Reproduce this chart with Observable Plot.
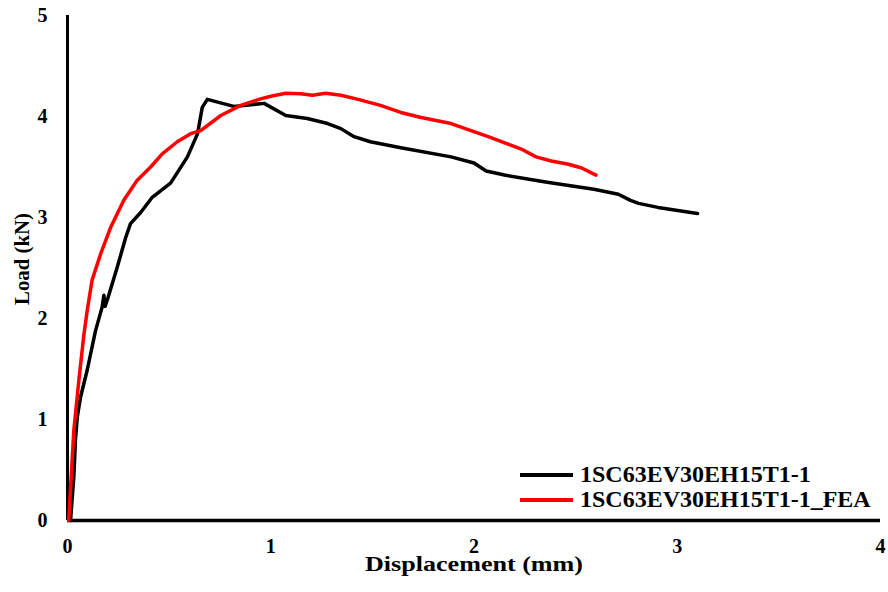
<!DOCTYPE html>
<html>
<head>
<meta charset="utf-8">
<script src="https://cdn.jsdelivr.net/npm/d3@7"></script>
<script src="https://cdn.jsdelivr.net/npm/@observablehq/plot@0.6"></script>
<style>
  html, body { margin: 0; padding: 0; background: #fff; }
  #chart { position: relative; width: 888px; height: 592px; }
  #legend {
    position: absolute; left: 520px; top: 462px;
    font: bold 24px "Liberation Serif", "Times New Roman", serif; color: #000;
  }
  #legend .row { display: flex; align-items: center; height: 25px; white-space: nowrap; }
  #legend .sw { width: 53px; height: 4px; margin-right: 7px; }
</style>
</head>
<body>
<div id="chart"></div>
<script>
// Load–displacement curve, experiment
const testDisp = [0.015, 0.031, 0.039, 0.048, 0.064, 0.097, 0.138, 0.17, 0.179, 0.185, 0.2, 0.245, 0.286, 0.31, 0.36, 0.417, 0.507, 0.59, 0.64, 0.663, 0.688, 0.818, 0.967, 1.074, 1.18, 1.28, 1.345, 1.41, 1.49, 1.64, 1.887, 2.0, 2.03, 2.06, 2.15, 2.36, 2.59, 2.71, 2.77, 2.81, 2.905, 3.10];
const testLoad = [0.0, 0.43, 0.79, 1.02, 1.22, 1.49, 1.88, 2.11, 2.23, 2.12, 2.21, 2.51, 2.80, 2.94, 3.05, 3.20, 3.34, 3.60, 3.83, 4.09, 4.17, 4.10, 4.13, 4.01, 3.98, 3.93, 3.88, 3.80, 3.75, 3.69, 3.60, 3.54, 3.50, 3.46, 3.42, 3.35, 3.28, 3.23, 3.17, 3.14, 3.10, 3.04];

// Load–displacement curve, finite element model
const feaDisp = [0.006, 0.031, 0.056, 0.08, 0.097, 0.121, 0.163, 0.212, 0.277, 0.343, 0.409, 0.466, 0.54, 0.606, 0.655, 0.754, 0.852, 0.95, 1.0, 1.074, 1.148, 1.205, 1.27, 1.345, 1.43, 1.54, 1.64, 1.74, 1.887, 2.07, 2.23, 2.305, 2.38, 2.46, 2.53, 2.60];
const feaLoad = [0.0, 0.89, 1.39, 1.83, 2.08, 2.38, 2.64, 2.90, 3.17, 3.37, 3.50, 3.63, 3.75, 3.83, 3.86, 4.01, 4.11, 4.175, 4.20, 4.23, 4.225, 4.21, 4.23, 4.21, 4.17, 4.11, 4.04, 3.99, 3.93, 3.80, 3.68, 3.60, 3.56, 3.53, 3.49, 3.42];

const seriesNames = ["1SC63EV30EH15T1-1", "1SC63EV30EH15T1-1_FEA"];
const seriesColors = ["#000000", "#ff0000"];
const xTicks = [0, 1, 2, 3, 4];
const yTicks = [0, 1, 2, 3, 4, 5];
const xTitle = "Displacement (mm)";
const yTitle = "Load (kN)";

const rows = [
  ...testDisp.map((d, i) => ({series: seriesNames[0], disp: d, load: testLoad[i]})),
  ...feaDisp.map((d, i) => ({series: seriesNames[1], disp: d, load: feaLoad[i]}))
];

const serif = "'Liberation Serif', 'Times New Roman', serif";

const chart = Plot.plot({
  width: 888,
  height: 592,
  marginLeft: 67,
  marginRight: 8,
  marginTop: 15,
  marginBottom: 72,
  style: {fontFamily: serif, fontWeight: "bold", background: "#fff", color: "#000"},
  x: {domain: [0, 4]},
  y: {domain: [0, 5]},
  color: {domain: seriesNames, range: seriesColors},
  marks: [
    Plot.axisX({ticks: xTicks, tickSize: 0, tickPadding: 18, fontSize: 20, tickFormat: d3.format("d"), label: null}),
    Plot.axisY({ticks: yTicks, tickSize: 0, tickPadding: 20, fontSize: 20, tickFormat: d3.format("d"), label: null}),
    Plot.text([xTitle], {frameAnchor: "bottom", dy: 43, lineAnchor: "middle", fontSize: 22, fontWeight: "bold"}),
    Plot.text([yTitle], {frameAnchor: "left", textAnchor: "middle", dx: -45, dy: -9, rotate: -90,
      lineAnchor: "middle", fontSize: 20, fontWeight: "bold"}),
    Plot.ruleY([0], {stroke: "#000", strokeWidth: 3.5}),
    Plot.ruleX([0], {stroke: "#000", strokeWidth: 3}),
    Plot.line(rows, {x: "disp", y: "load", z: "series", stroke: "series", strokeWidth: 3.5,
      strokeLinejoin: "round", strokeLinecap: "round"})
  ]
});

// the axis titles are set in a wide face: stretch them to their full length
const titleLength = new Map([[xTitle, 218], [yTitle, 92]]);
chart.querySelectorAll("text").forEach(t => {
  const len = titleLength.get(t.textContent.trim());
  if (len) {
    t.setAttribute("textLength", len);
    t.setAttribute("lengthAdjust", "spacingAndGlyphs");
  }
});

const holder = document.getElementById("chart");
holder.appendChild(chart);

// legend
const legend = document.createElement("div");
legend.id = "legend";
seriesNames.forEach((name, i) => {
  const row = document.createElement("div");
  row.className = "row";
  const sw = document.createElement("span");
  sw.className = "sw";
  sw.style.background = seriesColors[i];
  const label = document.createElement("span");
  label.textContent = name;
  row.appendChild(sw);
  row.appendChild(label);
  legend.appendChild(row);
});
holder.appendChild(legend);
</script>
</body>
</html>
